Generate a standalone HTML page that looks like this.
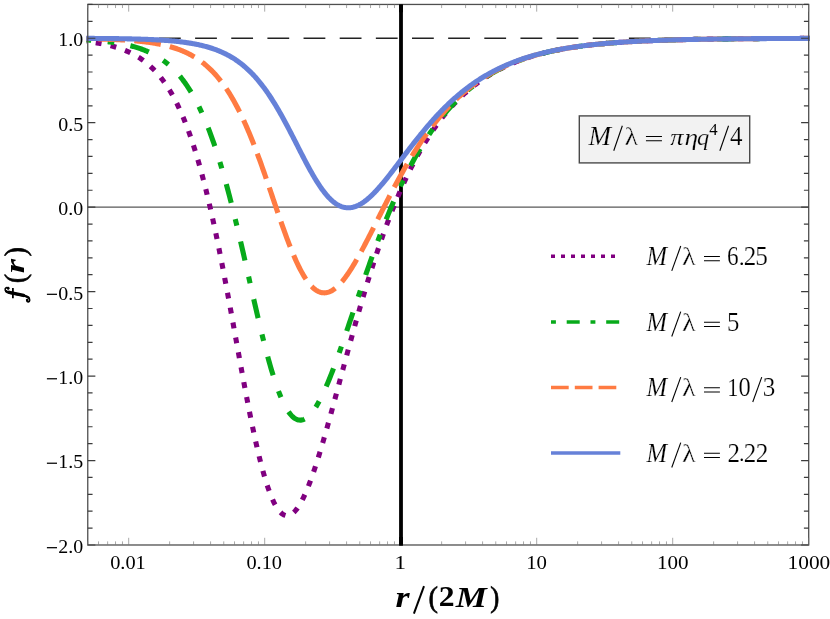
<!DOCTYPE html>
<html><head><meta charset="utf-8"><title>f(r)</title>
<style>html,body{margin:0;padding:0;background:#fff}body{width:830px;height:619px;overflow:hidden;font-family:"Liberation Serif",serif}svg{display:block;will-change:transform}</style>
</head><body>
<svg width="830" height="619" viewBox="0 0 830 619">
<rect width="830" height="619" fill="#fff"/>
<defs><clipPath id="c"><rect x="86.26" y="3.25" width="723.74" height="542.94"/></clipPath></defs>
<line x1="87.76" x2="808.70" y1="207.15" y2="207.15" stroke="#585858" stroke-width="1.3"/>
<g clip-path="url(#c)" fill="none">
<line x1="87.76" x2="808.70" y1="38.23" y2="38.23" stroke="#222" stroke-width="1.7" stroke-dasharray="21.8 14.35" stroke-dashoffset="1.11"/>
<line x1="401" x2="401" y1="4.45" y2="544.99" stroke="#000" stroke-width="3.8"/>
<path d="M82.84,41.18 L83.65,41.26 L84.46,41.35 L85.27,41.43 L86.08,41.52 L86.89,41.61 L87.70,41.71 L88.51,41.80 L89.32,41.90 L90.13,42.00 L90.94,42.11 L91.75,42.22 L92.56,42.33 L93.37,42.44 L94.18,42.56 L94.99,42.68 L95.80,42.80 L96.62,42.92 L97.43,43.05 L98.24,43.19 L99.05,43.33 L99.86,43.47 L100.67,43.61 L101.48,43.76 L102.29,43.91 L103.10,44.07 L103.91,44.23 L104.72,44.40 L105.53,44.57 L106.34,44.74 L107.15,44.92 L107.96,45.10 L108.77,45.29 L109.59,45.49 L110.40,45.69 L111.21,45.89 L112.02,46.11 L112.83,46.32 L113.64,46.54 L114.45,46.77 L115.26,47.01 L116.07,47.25 L116.88,47.50 L117.69,47.75 L118.50,48.01 L119.31,48.28 L120.12,48.56 L120.93,48.84 L121.74,49.13 L122.56,49.43 L123.37,49.74 L124.18,50.05 L124.99,50.38 L125.80,50.71 L126.61,51.05 L127.42,51.40 L128.23,51.76 L129.04,52.13 L129.85,52.51 L130.66,52.90 L131.47,53.30 L132.28,53.71 L133.09,54.13 L133.90,54.56 L134.71,55.01 L135.53,55.46 L136.34,55.93 L137.15,56.41 L137.96,56.91 L138.77,57.41 L139.58,57.93 L140.39,58.47 L141.20,59.01 L142.01,59.58 L142.82,60.15 L143.63,60.74 L144.44,61.35 L145.25,61.97 L146.06,62.61 L146.87,63.27 L147.68,63.94 L148.50,64.63 L149.31,65.34 L150.12,66.06 L150.93,66.81 L151.74,67.57 L152.55,68.36 L153.36,69.16 L154.17,69.98 L154.98,70.83 L155.79,71.69 L156.60,72.58 L157.41,73.49 L158.22,74.43 L159.03,75.38 L159.84,76.36 L160.65,77.37 L161.47,78.40 L162.28,79.45 L163.09,80.53 L163.90,81.64 L164.71,82.78 L165.52,83.94 L166.33,85.13 L167.14,86.35 L167.95,87.60 L168.76,88.88 L169.57,90.19 L170.38,91.53 L171.19,92.90 L172.00,94.31 L172.81,95.75 L173.62,97.22 L174.44,98.73 L175.25,100.27 L176.06,101.84 L176.87,103.46 L177.68,105.11 L178.49,106.79 L179.30,108.52 L180.11,110.28 L180.92,112.08 L181.73,113.92 L182.54,115.81 L183.35,117.73 L184.16,119.70 L184.97,121.70 L185.78,123.75 L186.59,125.85 L187.40,127.98 L188.22,130.16 L189.03,132.39 L189.84,134.66 L190.65,136.98 L191.46,139.34 L192.27,141.75 L193.08,144.21 L193.89,146.72 L194.70,149.27 L195.51,151.87 L196.32,154.53 L197.13,157.23 L197.94,159.98 L198.75,162.78 L199.56,165.63 L200.37,168.53 L201.19,171.48 L202.00,174.48 L202.81,177.53 L203.62,180.63 L204.43,183.78 L205.24,186.99 L206.05,190.24 L206.86,193.54 L207.67,196.90 L208.48,200.30 L209.29,203.75 L210.10,207.26 L210.91,210.81 L211.72,214.41 L212.53,218.05 L213.34,221.75 L214.16,225.49 L214.97,229.27 L215.78,233.10 L216.59,236.98 L217.40,240.90 L218.21,244.86 L219.02,248.86 L219.83,252.90 L220.64,256.98 L221.45,261.09 L222.26,265.24 L223.07,269.43 L223.88,273.65 L224.69,277.90 L225.50,282.18 L226.31,286.49 L227.13,290.83 L227.94,295.18 L228.75,299.57 L229.56,303.97 L230.37,308.39 L231.18,312.82 L231.99,317.27 L232.80,321.73 L233.61,326.20 L234.42,330.68 L235.23,335.16 L236.04,339.64 L236.85,344.12 L237.66,348.60 L238.47,353.07 L239.28,357.53 L240.10,361.98 L240.91,366.42 L241.72,370.84 L242.53,375.24 L243.34,379.62 L244.15,383.97 L244.96,388.29 L245.77,392.58 L246.58,396.84 L247.39,401.06 L248.20,405.24 L249.01,409.37 L249.82,413.46 L250.63,417.50 L251.44,421.50 L252.25,425.43 L253.07,429.31 L253.88,433.13 L254.69,436.89 L255.50,440.58 L256.31,444.21 L257.12,447.77 L257.93,451.25 L258.74,454.66 L259.55,458.00 L260.36,461.25 L261.17,464.43 L261.98,467.52 L262.79,470.52 L263.60,473.44 L264.41,476.28 L265.22,479.02 L266.04,481.67 L266.85,484.22 L267.66,486.68 L268.47,489.05 L269.28,491.32 L270.09,493.49 L270.90,495.56 L271.71,497.53 L272.52,499.40 L273.33,501.17 L274.14,502.84 L274.95,504.41 L275.76,505.87 L276.57,507.23 L277.38,508.49 L278.19,509.64 L279.00,510.69 L279.82,511.64 L280.63,512.48 L281.44,513.23 L282.25,513.87 L283.06,514.41 L283.87,514.85 L284.68,515.18 L285.49,515.42 L286.30,515.56 L287.11,515.61 L287.92,515.55 L288.73,515.40 L289.54,515.16 L290.35,514.82 L291.16,514.39 L291.97,513.87 L292.79,513.26 L293.60,512.56 L294.41,511.77 L295.22,510.90 L296.03,509.95 L296.84,508.91 L297.65,507.79 L298.46,506.60 L299.27,505.32 L300.08,503.98 L300.89,502.55 L301.70,501.06 L302.51,499.49 L303.32,497.86 L304.13,496.16 L304.94,494.39 L305.76,492.56 L306.57,490.67 L307.38,488.72 L308.19,486.71 L309.00,484.65 L309.81,482.53 L310.62,480.36 L311.43,478.13 L312.24,475.86 L313.05,473.54 L313.86,471.18 L314.67,468.77 L315.48,466.32 L316.29,463.83 L317.10,461.30 L317.91,458.74 L318.73,456.13 L319.54,453.50 L320.35,450.83 L321.16,448.13 L321.97,445.41 L322.78,442.65 L323.59,439.87 L324.40,437.07 L325.21,434.24 L326.02,431.39 L326.83,428.53 L327.64,425.64 L328.45,422.73 L329.26,419.81 L330.07,416.88 L330.88,413.93 L331.70,410.97 L332.51,408.00 L333.32,405.02 L334.13,402.03 L334.94,399.03 L335.75,396.02 L336.56,393.02 L337.37,390.00 L338.18,386.98 L338.99,383.97 L339.80,380.95 L340.61,377.93 L341.42,374.91 L342.23,371.89 L343.04,368.87 L343.85,365.86 L344.67,362.85 L345.48,359.84 L346.29,356.85 L347.10,353.85 L347.91,350.87 L348.72,347.89 L349.53,344.92 L350.34,341.96 L351.15,339.01 L351.96,336.07 L352.77,333.14 L353.58,330.22 L354.39,327.31 L355.20,324.42 L356.01,321.53 L356.82,318.67 L357.63,315.81 L358.45,312.97 L359.26,310.14 L360.07,307.33 L360.88,304.53 L361.69,301.75 L362.50,298.99 L363.31,296.24 L364.12,293.51 L364.93,290.79 L365.74,288.10 L366.55,285.42 L367.36,282.75 L368.17,280.11 L368.98,277.48 L369.79,274.87 L370.60,272.28 L371.42,269.71 L372.23,267.16 L373.04,264.63 L373.85,262.11 L374.66,259.62 L375.47,257.14 L376.28,254.69 L377.09,252.25 L377.90,249.83 L378.71,247.44 L379.52,245.06 L380.33,242.70 L381.14,240.36 L381.95,238.05 L382.76,235.75 L383.57,233.47 L384.39,231.21 L385.20,228.98 L386.01,226.76 L386.82,224.56 L387.63,222.39 L388.44,220.23 L389.25,218.09 L390.06,215.97 L390.87,213.88 L391.68,211.80 L392.49,209.74 L393.30,207.71 L394.11,205.69 L394.92,203.69 L395.73,201.71 L396.54,199.75 L397.36,197.81 L398.17,195.89 L398.98,193.99 L399.79,192.11 L400.60,190.25 L401.41,188.41 L402.22,186.58 L403.03,184.78 L403.84,182.99 L404.65,181.22 L405.46,179.48 L406.27,177.75 L407.08,176.03 L407.89,174.34 L408.70,172.66 L409.51,171.01 L410.33,169.37 L411.14,167.74 L411.95,166.14 L412.76,164.55 L413.57,162.98 L414.38,161.43 L415.19,159.90 L416.00,158.38 L416.81,156.88 L417.62,155.39 L418.43,153.93 L419.24,152.48 L420.05,151.04 L420.86,149.62 L421.67,148.22 L422.48,146.83 L423.30,145.46 L424.11,144.11 L424.92,142.77 L425.73,141.45 L426.54,140.14 L427.35,138.84 L428.16,137.57 L428.97,136.30 L429.78,135.05 L430.59,133.82 L431.40,132.60 L432.21,131.40 L433.02,130.21 L433.83,129.03 L434.64,127.87 L435.45,126.72 L436.27,125.58 L437.08,124.46 L437.89,123.35 L438.70,122.26 L439.51,121.18 L440.32,120.11 L441.13,119.05 L441.94,118.01 L442.75,116.98 L443.56,115.96 L444.37,114.96 L445.18,113.96 L445.99,112.98 L446.80,112.01 L447.61,111.05 L448.42,110.11 L449.23,109.18 L450.05,108.25 L450.86,107.34 L451.67,106.44 L452.48,105.55 L453.29,104.68 L454.10,103.81 L454.91,102.95 L455.72,102.11 L456.53,101.27 L457.34,100.45 L458.15,99.63 L458.96,98.83 L459.77,98.04 L460.58,97.25 L461.39,96.48 L462.20,95.71 L463.02,94.96 L463.83,94.21 L464.64,93.48 L465.45,92.75 L466.26,92.03 L467.07,91.33 L467.88,90.63 L468.69,89.94 L469.50,89.25 L470.31,88.58 L471.12,87.92 L471.93,87.26 L472.74,86.61 L473.55,85.97 L474.36,85.34 L475.17,84.72 L475.99,84.10 L476.80,83.50 L477.61,82.90 L478.42,82.31 L479.23,81.72 L480.04,81.15 L480.85,80.58 L481.66,80.01 L482.47,79.46 L483.28,78.91 L484.09,78.37 L484.90,77.84 L485.71,77.31 L486.52,76.79 L487.33,76.28 L488.14,75.77 L488.96,75.27 L489.77,74.78 L490.58,74.29 L491.39,73.81 L492.20,73.34 L493.01,72.87 L493.82,72.41 L494.63,71.95 L495.44,71.50 L496.25,71.06 L497.06,70.62 L497.87,70.19 L498.68,69.76 L499.49,69.34 L500.30,68.92 L501.11,68.51 L501.93,68.11 L502.74,67.71 L503.55,67.31 L504.36,66.92 L505.17,66.54 L505.98,66.16 L506.79,65.79 L507.60,65.42 L508.41,65.05 L509.22,64.69 L510.03,64.34 L510.84,63.99 L511.65,63.64 L512.46,63.30 L513.27,62.96 L514.08,62.63 L514.90,62.30 L515.71,61.98 L516.52,61.66 L517.33,61.35 L518.14,61.04 L518.95,60.73 L519.76,60.43 L520.57,60.13 L521.38,59.84 L522.19,59.54 L523.00,59.26 L523.81,58.97 L524.62,58.70 L525.43,58.42 L526.24,58.15 L527.05,57.88 L527.87,57.62 L528.68,57.35 L529.49,57.10 L530.30,56.84 L531.11,56.59 L531.92,56.34 L532.73,56.10 L533.54,55.86 L534.35,55.62 L535.16,55.39 L535.97,55.16 L536.78,54.93 L537.59,54.70 L538.40,54.48 L539.21,54.26 L540.02,54.04 L540.83,53.83 L541.65,53.62 L542.46,53.41 L543.27,53.21 L544.08,53.00 L544.89,52.80 L545.70,52.61 L546.51,52.41 L547.32,52.22 L548.13,52.03 L548.94,51.85 L549.75,51.66 L550.56,51.48 L551.37,51.30 L552.18,51.12 L552.99,50.95 L553.80,50.78 L554.62,50.61 L555.43,50.44 L556.24,50.28 L557.05,50.11 L557.86,49.95 L558.67,49.79 L559.48,49.64 L560.29,49.48 L561.10,49.33 L561.91,49.18 L562.72,49.03 L563.53,48.89 L564.34,48.74 L565.15,48.60 L565.96,48.46 L566.77,48.32 L567.59,48.18 L568.40,48.05 L569.21,47.92 L570.02,47.78 L570.83,47.65 L571.64,47.53 L572.45,47.40 L573.26,47.28 L574.07,47.15 L574.88,47.03 L575.69,46.91 L576.50,46.80 L577.31,46.68 L578.12,46.56 L578.93,46.45 L579.74,46.34 L580.56,46.23 L581.37,46.12 L582.18,46.01 L582.99,45.91 L583.80,45.80 L584.61,45.70 L585.42,45.60 L586.23,45.50 L587.04,45.40 L587.85,45.30 L588.66,45.21 L589.47,45.11 L590.28,45.02 L591.09,44.93 L591.90,44.84 L592.71,44.75 L593.53,44.66 L594.34,44.57 L595.15,44.49 L595.96,44.40 L596.77,44.32 L597.58,44.23 L598.39,44.15 L599.20,44.07 L600.01,43.99 L600.82,43.91 L601.63,43.84 L602.44,43.76 L603.25,43.69 L604.06,43.61 L604.87,43.54 L605.68,43.47 L606.50,43.40 L607.31,43.33 L608.12,43.26 L608.93,43.19 L609.74,43.12 L610.55,43.05 L611.36,42.99 L612.17,42.92 L612.98,42.86 L613.79,42.80 L614.60,42.73 L615.41,42.67 L616.22,42.61 L617.03,42.55 L617.84,42.49 L618.65,42.44 L619.46,42.38 L620.28,42.32 L621.09,42.27 L621.90,42.21 L622.71,42.16 L623.52,42.11 L624.33,42.05 L625.14,42.00 L625.95,41.95 L626.76,41.90 L627.57,41.85 L628.38,41.80 L629.19,41.75 L630.00,41.70 L630.81,41.66 L631.62,41.61 L632.43,41.56 L633.25,41.52 L634.06,41.47 L634.87,41.43 L635.68,41.39 L636.49,41.34 L637.30,41.30 L638.11,41.26 L638.92,41.22 L639.73,41.18 L640.54,41.14 L641.35,41.10 L642.16,41.06 L642.97,41.02 L643.78,40.98 L644.59,40.94 L645.40,40.91 L646.22,40.87 L647.03,40.83 L647.84,40.80 L648.65,40.76 L649.46,40.73 L650.27,40.70 L651.08,40.66 L651.89,40.63 L652.70,40.60 L653.51,40.56 L654.32,40.53 L655.13,40.50 L655.94,40.47 L656.75,40.44 L657.56,40.41 L658.37,40.38 L659.19,40.35 L660.00,40.32 L660.81,40.29 L661.62,40.27 L662.43,40.24 L663.24,40.21 L664.05,40.18 L664.86,40.16 L665.67,40.13 L666.48,40.10 L667.29,40.08 L668.10,40.05 L668.91,40.03 L669.72,40.00 L670.53,39.98 L671.34,39.96 L672.16,39.93 L672.97,39.91 L673.78,39.89 L674.59,39.86 L675.40,39.84 L676.21,39.82 L677.02,39.80 L677.83,39.78 L678.64,39.76 L679.45,39.74 L680.26,39.71 L681.07,39.69 L681.88,39.67 L682.69,39.66 L683.50,39.64 L684.31,39.62 L685.13,39.60 L685.94,39.58 L686.75,39.56 L687.56,39.54 L688.37,39.52 L689.18,39.51 L689.99,39.49 L690.80,39.47 L691.61,39.46 L692.42,39.44 L693.23,39.42 L694.04,39.41 L694.85,39.39 L695.66,39.37 L696.47,39.36 L697.28,39.34 L698.10,39.33 L698.91,39.31 L699.72,39.30 L700.53,39.28 L701.34,39.27 L702.15,39.26 L702.96,39.24 L703.77,39.23 L704.58,39.21 L705.39,39.20 L706.20,39.19 L707.01,39.17 L707.82,39.16 L708.63,39.15 L709.44,39.14 L710.25,39.12 L711.06,39.11 L711.88,39.10 L712.69,39.09 L713.50,39.08 L714.31,39.06 L715.12,39.05 L715.93,39.04 L716.74,39.03 L717.55,39.02 L718.36,39.01 L719.17,39.00 L719.98,38.99 L720.79,38.98 L721.60,38.97 L722.41,38.96 L723.22,38.95 L724.03,38.94 L724.85,38.93 L725.66,38.92 L726.47,38.91 L727.28,38.90 L728.09,38.89 L728.90,38.88 L729.71,38.87 L730.52,38.86 L731.33,38.86 L732.14,38.85 L732.95,38.84 L733.76,38.83 L734.57,38.82 L735.38,38.81 L736.19,38.81 L737.00,38.80 L737.82,38.79 L738.63,38.78 L739.44,38.78 L740.25,38.77 L741.06,38.76 L741.87,38.75 L742.68,38.75 L743.49,38.74 L744.30,38.73 L745.11,38.73 L745.92,38.72 L746.73,38.71 L747.54,38.71 L748.35,38.70 L749.16,38.69 L749.97,38.69 L750.79,38.68 L751.60,38.67 L752.41,38.67 L753.22,38.66 L754.03,38.66 L754.84,38.65 L755.65,38.64 L756.46,38.64 L757.27,38.63 L758.08,38.63 L758.89,38.62 L759.70,38.62 L760.51,38.61 L761.32,38.61 L762.13,38.60 L762.94,38.60 L763.76,38.59 L764.57,38.59 L765.38,38.58 L766.19,38.58 L767.00,38.57 L767.81,38.57 L768.62,38.56 L769.43,38.56 L770.24,38.55 L771.05,38.55 L771.86,38.55 L772.67,38.54 L773.48,38.54 L774.29,38.53 L775.10,38.53 L775.91,38.52 L776.73,38.52 L777.54,38.52 L778.35,38.51 L779.16,38.51 L779.97,38.50 L780.78,38.50 L781.59,38.50 L782.40,38.49 L783.21,38.49 L784.02,38.49 L784.83,38.48 L785.64,38.48 L786.45,38.48 L787.26,38.47 L788.07,38.47 L788.88,38.47 L789.70,38.46 L790.51,38.46 L791.32,38.46 L792.13,38.45 L792.94,38.45 L793.75,38.45 L794.56,38.44 L795.37,38.44 L796.18,38.44 L796.99,38.44 L797.80,38.43 L798.61,38.43 L799.42,38.43 L800.23,38.42 L801.04,38.42 L801.85,38.42 L802.66,38.42 L803.48,38.41 L804.29,38.41 L805.10,38.41 L805.91,38.41 L806.72,38.40 L807.53,38.40 L808.34,38.40 L809.15,38.40 L809.96,38.40 L810.77,38.39 L811.58,38.39" stroke="#800080" stroke-width="5.1" stroke-dasharray="5.9 9.24" stroke-dashoffset="2.16"/>
<path d="M82.84,39.74 L83.65,39.79 L84.46,39.83 L85.27,39.87 L86.08,39.92 L86.89,39.97 L87.70,40.01 L88.51,40.06 L89.32,40.11 L90.13,40.17 L90.94,40.22 L91.75,40.27 L92.56,40.33 L93.37,40.39 L94.18,40.45 L94.99,40.51 L95.80,40.57 L96.62,40.64 L97.43,40.71 L98.24,40.77 L99.05,40.85 L99.86,40.92 L100.67,40.99 L101.48,41.07 L102.29,41.15 L103.10,41.23 L103.91,41.31 L104.72,41.40 L105.53,41.48 L106.34,41.57 L107.15,41.67 L107.96,41.76 L108.77,41.86 L109.59,41.96 L110.40,42.06 L111.21,42.17 L112.02,42.28 L112.83,42.39 L113.64,42.50 L114.45,42.62 L115.26,42.74 L116.07,42.87 L116.88,43.00 L117.69,43.13 L118.50,43.26 L119.31,43.40 L120.12,43.54 L120.93,43.69 L121.74,43.84 L122.56,44.00 L123.37,44.16 L124.18,44.32 L124.99,44.49 L125.80,44.66 L126.61,44.84 L127.42,45.02 L128.23,45.20 L129.04,45.40 L129.85,45.59 L130.66,45.79 L131.47,46.00 L132.28,46.22 L133.09,46.43 L133.90,46.66 L134.71,46.89 L135.53,47.13 L136.34,47.37 L137.15,47.62 L137.96,47.88 L138.77,48.14 L139.58,48.42 L140.39,48.69 L141.20,48.98 L142.01,49.27 L142.82,49.57 L143.63,49.88 L144.44,50.20 L145.25,50.53 L146.06,50.86 L146.87,51.21 L147.68,51.56 L148.50,51.92 L149.31,52.29 L150.12,52.68 L150.93,53.07 L151.74,53.47 L152.55,53.88 L153.36,54.31 L154.17,54.74 L154.98,55.19 L155.79,55.65 L156.60,56.12 L157.41,56.60 L158.22,57.09 L159.03,57.60 L159.84,58.12 L160.65,58.66 L161.47,59.21 L162.28,59.77 L163.09,60.35 L163.90,60.94 L164.71,61.54 L165.52,62.17 L166.33,62.81 L167.14,63.46 L167.95,64.13 L168.76,64.82 L169.57,65.53 L170.38,66.25 L171.19,66.99 L172.00,67.75 L172.81,68.53 L173.62,69.33 L174.44,70.15 L175.25,70.99 L176.06,71.85 L176.87,72.73 L177.68,73.63 L178.49,74.56 L179.30,75.50 L180.11,76.47 L180.92,77.47 L181.73,78.48 L182.54,79.52 L183.35,80.59 L184.16,81.68 L184.97,82.80 L185.78,83.94 L186.59,85.11 L187.40,86.31 L188.22,87.54 L189.03,88.79 L189.84,90.07 L190.65,91.39 L191.46,92.73 L192.27,94.10 L193.08,95.50 L193.89,96.94 L194.70,98.40 L195.51,99.90 L196.32,101.43 L197.13,102.99 L197.94,104.59 L198.75,106.22 L199.56,107.89 L200.37,109.59 L201.19,111.32 L202.00,113.09 L202.81,114.90 L203.62,116.75 L204.43,118.63 L205.24,120.55 L206.05,122.50 L206.86,124.50 L207.67,126.53 L208.48,128.60 L209.29,130.71 L210.10,132.86 L210.91,135.05 L211.72,137.28 L212.53,139.55 L213.34,141.86 L214.16,144.21 L214.97,146.60 L215.78,149.03 L216.59,151.50 L217.40,154.02 L218.21,156.57 L219.02,159.16 L219.83,161.79 L220.64,164.47 L221.45,167.18 L222.26,169.93 L223.07,172.72 L223.88,175.55 L224.69,178.42 L225.50,181.33 L226.31,184.27 L227.13,187.26 L227.94,190.28 L228.75,193.33 L229.56,196.42 L230.37,199.55 L231.18,202.71 L231.99,205.90 L232.80,209.12 L233.61,212.38 L234.42,215.66 L235.23,218.98 L236.04,222.32 L236.85,225.69 L237.66,229.08 L238.47,232.50 L239.28,235.94 L240.10,239.41 L240.91,242.89 L241.72,246.39 L242.53,249.91 L243.34,253.44 L244.15,256.98 L244.96,260.54 L245.77,264.11 L246.58,267.68 L247.39,271.26 L248.20,274.84 L249.01,278.43 L249.82,282.02 L250.63,285.60 L251.44,289.18 L252.25,292.75 L253.07,296.31 L253.88,299.86 L254.69,303.40 L255.50,306.93 L256.31,310.43 L257.12,313.92 L257.93,317.38 L258.74,320.82 L259.55,324.24 L260.36,327.62 L261.17,330.97 L261.98,334.29 L262.79,337.57 L263.60,340.82 L264.41,344.02 L265.22,347.18 L266.04,350.30 L266.85,353.37 L267.66,356.39 L268.47,359.35 L269.28,362.27 L270.09,365.13 L270.90,367.93 L271.71,370.68 L272.52,373.36 L273.33,375.98 L274.14,378.54 L274.95,381.03 L275.76,383.45 L276.57,385.80 L277.38,388.09 L278.19,390.30 L279.00,392.44 L279.82,394.50 L280.63,396.49 L281.44,398.40 L282.25,400.24 L283.06,402.00 L283.87,403.67 L284.68,405.27 L285.49,406.79 L286.30,408.23 L287.11,409.58 L287.92,410.86 L288.73,412.05 L289.54,413.16 L290.35,414.18 L291.16,415.13 L291.97,415.99 L292.79,416.77 L293.60,417.47 L294.41,418.08 L295.22,418.62 L296.03,419.07 L296.84,419.44 L297.65,419.73 L298.46,419.94 L299.27,420.07 L300.08,420.13 L300.89,420.11 L301.70,420.01 L302.51,419.83 L303.32,419.58 L304.13,419.25 L304.94,418.85 L305.76,418.38 L306.57,417.84 L307.38,417.23 L308.19,416.55 L309.00,415.81 L309.81,415.00 L310.62,414.12 L311.43,413.18 L312.24,412.18 L313.05,411.11 L313.86,409.99 L314.67,408.81 L315.48,407.57 L316.29,406.28 L317.10,404.93 L317.91,403.53 L318.73,402.08 L319.54,400.58 L320.35,399.03 L321.16,397.44 L321.97,395.80 L322.78,394.11 L323.59,392.38 L324.40,390.62 L325.21,388.81 L326.02,386.96 L326.83,385.08 L327.64,383.16 L328.45,381.21 L329.26,379.23 L330.07,377.21 L330.88,375.17 L331.70,373.09 L332.51,370.99 L333.32,368.87 L334.13,366.71 L334.94,364.54 L335.75,362.34 L336.56,360.12 L337.37,357.88 L338.18,355.63 L338.99,353.35 L339.80,351.06 L340.61,348.76 L341.42,346.44 L342.23,344.10 L343.04,341.76 L343.85,339.40 L344.67,337.04 L345.48,334.66 L346.29,332.28 L347.10,329.89 L347.91,327.49 L348.72,325.09 L349.53,322.68 L350.34,320.27 L351.15,317.86 L351.96,315.44 L352.77,313.03 L353.58,310.61 L354.39,308.20 L355.20,305.78 L356.01,303.37 L356.82,300.96 L357.63,298.55 L358.45,296.14 L359.26,293.74 L360.07,291.35 L360.88,288.96 L361.69,286.57 L362.50,284.20 L363.31,281.83 L364.12,279.46 L364.93,277.11 L365.74,274.76 L366.55,272.42 L367.36,270.10 L368.17,267.78 L368.98,265.47 L369.79,263.17 L370.60,260.88 L371.42,258.61 L372.23,256.34 L373.04,254.09 L373.85,251.85 L374.66,249.62 L375.47,247.41 L376.28,245.21 L377.09,243.02 L377.90,240.84 L378.71,238.68 L379.52,236.53 L380.33,234.40 L381.14,232.28 L381.95,230.17 L382.76,228.08 L383.57,226.01 L384.39,223.95 L385.20,221.90 L386.01,219.87 L386.82,217.85 L387.63,215.85 L388.44,213.87 L389.25,211.90 L390.06,209.95 L390.87,208.01 L391.68,206.09 L392.49,204.18 L393.30,202.29 L394.11,200.42 L394.92,198.56 L395.73,196.72 L396.54,194.89 L397.36,193.08 L398.17,191.29 L398.98,189.51 L399.79,187.75 L400.60,186.00 L401.41,184.27 L402.22,182.56 L403.03,180.86 L403.84,179.18 L404.65,177.51 L405.46,175.86 L406.27,174.23 L407.08,172.61 L407.89,171.01 L408.70,169.42 L409.51,167.85 L410.33,166.30 L411.14,164.76 L411.95,163.23 L412.76,161.72 L413.57,160.23 L414.38,158.75 L415.19,157.29 L416.00,155.84 L416.81,154.41 L417.62,152.99 L418.43,151.59 L419.24,150.20 L420.05,148.83 L420.86,147.47 L421.67,146.12 L422.48,144.79 L423.30,143.48 L424.11,142.18 L424.92,140.89 L425.73,139.62 L426.54,138.36 L427.35,137.11 L428.16,135.88 L428.97,134.66 L429.78,133.46 L430.59,132.27 L431.40,131.09 L432.21,129.93 L433.02,128.77 L433.83,127.64 L434.64,126.51 L435.45,125.40 L436.27,124.30 L437.08,123.21 L437.89,122.14 L438.70,121.08 L439.51,120.03 L440.32,118.99 L441.13,117.96 L441.94,116.95 L442.75,115.95 L443.56,114.96 L444.37,113.98 L445.18,113.01 L445.99,112.06 L446.80,111.11 L447.61,110.18 L448.42,109.26 L449.23,108.35 L450.05,107.45 L450.86,106.56 L451.67,105.68 L452.48,104.81 L453.29,103.95 L454.10,103.11 L454.91,102.27 L455.72,101.44 L456.53,100.62 L457.34,99.82 L458.15,99.02 L458.96,98.23 L459.77,97.46 L460.58,96.69 L461.39,95.93 L462.20,95.18 L463.02,94.44 L463.83,93.71 L464.64,92.99 L465.45,92.27 L466.26,91.57 L467.07,90.87 L467.88,90.18 L468.69,89.51 L469.50,88.84 L470.31,88.17 L471.12,87.52 L471.93,86.88 L472.74,86.24 L473.55,85.61 L474.36,84.99 L475.17,84.37 L475.99,83.77 L476.80,83.17 L477.61,82.58 L478.42,82.00 L479.23,81.42 L480.04,80.85 L480.85,80.29 L481.66,79.74 L482.47,79.19 L483.28,78.65 L484.09,78.12 L484.90,77.59 L485.71,77.07 L486.52,76.56 L487.33,76.05 L488.14,75.55 L488.96,75.06 L489.77,74.57 L490.58,74.09 L491.39,73.61 L492.20,73.14 L493.01,72.68 L493.82,72.22 L494.63,71.77 L495.44,71.33 L496.25,70.89 L497.06,70.45 L497.87,70.03 L498.68,69.60 L499.49,69.19 L500.30,68.77 L501.11,68.37 L501.93,67.97 L502.74,67.57 L503.55,67.18 L504.36,66.79 L505.17,66.41 L505.98,66.04 L506.79,65.67 L507.60,65.30 L508.41,64.94 L509.22,64.58 L510.03,64.23 L510.84,63.88 L511.65,63.54 L512.46,63.20 L513.27,62.87 L514.08,62.54 L514.90,62.21 L515.71,61.89 L516.52,61.58 L517.33,61.26 L518.14,60.96 L518.95,60.65 L519.76,60.35 L520.57,60.06 L521.38,59.76 L522.19,59.47 L523.00,59.19 L523.81,58.91 L524.62,58.63 L525.43,58.36 L526.24,58.09 L527.05,57.82 L527.87,57.56 L528.68,57.30 L529.49,57.04 L530.30,56.79 L531.11,56.54 L531.92,56.29 L532.73,56.05 L533.54,55.81 L534.35,55.57 L535.16,55.34 L535.97,55.11 L536.78,54.88 L537.59,54.66 L538.40,54.44 L539.21,54.22 L540.02,54.01 L540.83,53.79 L541.65,53.58 L542.46,53.38 L543.27,53.17 L544.08,52.97 L544.89,52.77 L545.70,52.58 L546.51,52.38 L547.32,52.19 L548.13,52.00 L548.94,51.82 L549.75,51.63 L550.56,51.45 L551.37,51.28 L552.18,51.10 L552.99,50.93 L553.80,50.75 L554.62,50.59 L555.43,50.42 L556.24,50.25 L557.05,50.09 L557.86,49.93 L558.67,49.77 L559.48,49.62 L560.29,49.46 L561.10,49.31 L561.91,49.16 L562.72,49.01 L563.53,48.87 L564.34,48.72 L565.15,48.58 L565.96,48.44 L566.77,48.30 L567.59,48.17 L568.40,48.03 L569.21,47.90 L570.02,47.77 L570.83,47.64 L571.64,47.51 L572.45,47.39 L573.26,47.26 L574.07,47.14 L574.88,47.02 L575.69,46.90 L576.50,46.78 L577.31,46.67 L578.12,46.55 L578.93,46.44 L579.74,46.33 L580.56,46.22 L581.37,46.11 L582.18,46.01 L582.99,45.90 L583.80,45.80 L584.61,45.69 L585.42,45.59 L586.23,45.49 L587.04,45.39 L587.85,45.30 L588.66,45.20 L589.47,45.11 L590.28,45.01 L591.09,44.92 L591.90,44.83 L592.71,44.74 L593.53,44.65 L594.34,44.57 L595.15,44.48 L595.96,44.40 L596.77,44.31 L597.58,44.23 L598.39,44.15 L599.20,44.07 L600.01,43.99 L600.82,43.91 L601.63,43.83 L602.44,43.76 L603.25,43.68 L604.06,43.61 L604.87,43.53 L605.68,43.46 L606.50,43.39 L607.31,43.32 L608.12,43.25 L608.93,43.18 L609.74,43.12 L610.55,43.05 L611.36,42.99 L612.17,42.92 L612.98,42.86 L613.79,42.79 L614.60,42.73 L615.41,42.67 L616.22,42.61 L617.03,42.55 L617.84,42.49 L618.65,42.43 L619.46,42.38 L620.28,42.32 L621.09,42.27 L621.90,42.21 L622.71,42.16 L623.52,42.10 L624.33,42.05 L625.14,42.00 L625.95,41.95 L626.76,41.90 L627.57,41.85 L628.38,41.80 L629.19,41.75 L630.00,41.70 L630.81,41.65 L631.62,41.61 L632.43,41.56 L633.25,41.52 L634.06,41.47 L634.87,41.43 L635.68,41.38 L636.49,41.34 L637.30,41.30 L638.11,41.26 L638.92,41.22 L639.73,41.18 L640.54,41.14 L641.35,41.10 L642.16,41.06 L642.97,41.02 L643.78,40.98 L644.59,40.94 L645.40,40.91 L646.22,40.87 L647.03,40.83 L647.84,40.80 L648.65,40.76 L649.46,40.73 L650.27,40.69 L651.08,40.66 L651.89,40.63 L652.70,40.60 L653.51,40.56 L654.32,40.53 L655.13,40.50 L655.94,40.47 L656.75,40.44 L657.56,40.41 L658.37,40.38 L659.19,40.35 L660.00,40.32 L660.81,40.29 L661.62,40.26 L662.43,40.24 L663.24,40.21 L664.05,40.18 L664.86,40.16 L665.67,40.13 L666.48,40.10 L667.29,40.08 L668.10,40.05 L668.91,40.03 L669.72,40.00 L670.53,39.98 L671.34,39.96 L672.16,39.93 L672.97,39.91 L673.78,39.89 L674.59,39.86 L675.40,39.84 L676.21,39.82 L677.02,39.80 L677.83,39.78 L678.64,39.76 L679.45,39.74 L680.26,39.71 L681.07,39.69 L681.88,39.67 L682.69,39.65 L683.50,39.64 L684.31,39.62 L685.13,39.60 L685.94,39.58 L686.75,39.56 L687.56,39.54 L688.37,39.52 L689.18,39.51 L689.99,39.49 L690.80,39.47 L691.61,39.46 L692.42,39.44 L693.23,39.42 L694.04,39.41 L694.85,39.39 L695.66,39.37 L696.47,39.36 L697.28,39.34 L698.10,39.33 L698.91,39.31 L699.72,39.30 L700.53,39.28 L701.34,39.27 L702.15,39.26 L702.96,39.24 L703.77,39.23 L704.58,39.21 L705.39,39.20 L706.20,39.19 L707.01,39.17 L707.82,39.16 L708.63,39.15 L709.44,39.14 L710.25,39.12 L711.06,39.11 L711.88,39.10 L712.69,39.09 L713.50,39.08 L714.31,39.06 L715.12,39.05 L715.93,39.04 L716.74,39.03 L717.55,39.02 L718.36,39.01 L719.17,39.00 L719.98,38.99 L720.79,38.98 L721.60,38.97 L722.41,38.96 L723.22,38.95 L724.03,38.94 L724.85,38.93 L725.66,38.92 L726.47,38.91 L727.28,38.90 L728.09,38.89 L728.90,38.88 L729.71,38.87 L730.52,38.86 L731.33,38.86 L732.14,38.85 L732.95,38.84 L733.76,38.83 L734.57,38.82 L735.38,38.81 L736.19,38.81 L737.00,38.80 L737.82,38.79 L738.63,38.78 L739.44,38.78 L740.25,38.77 L741.06,38.76 L741.87,38.75 L742.68,38.75 L743.49,38.74 L744.30,38.73 L745.11,38.73 L745.92,38.72 L746.73,38.71 L747.54,38.71 L748.35,38.70 L749.16,38.69 L749.97,38.69 L750.79,38.68 L751.60,38.67 L752.41,38.67 L753.22,38.66 L754.03,38.66 L754.84,38.65 L755.65,38.64 L756.46,38.64 L757.27,38.63 L758.08,38.63 L758.89,38.62 L759.70,38.62 L760.51,38.61 L761.32,38.61 L762.13,38.60 L762.94,38.60 L763.76,38.59 L764.57,38.59 L765.38,38.58 L766.19,38.58 L767.00,38.57 L767.81,38.57 L768.62,38.56 L769.43,38.56 L770.24,38.55 L771.05,38.55 L771.86,38.55 L772.67,38.54 L773.48,38.54 L774.29,38.53 L775.10,38.53 L775.91,38.52 L776.73,38.52 L777.54,38.52 L778.35,38.51 L779.16,38.51 L779.97,38.50 L780.78,38.50 L781.59,38.50 L782.40,38.49 L783.21,38.49 L784.02,38.49 L784.83,38.48 L785.64,38.48 L786.45,38.48 L787.26,38.47 L788.07,38.47 L788.88,38.47 L789.70,38.46 L790.51,38.46 L791.32,38.46 L792.13,38.45 L792.94,38.45 L793.75,38.45 L794.56,38.44 L795.37,38.44 L796.18,38.44 L796.99,38.44 L797.80,38.43 L798.61,38.43 L799.42,38.43 L800.23,38.42 L801.04,38.42 L801.85,38.42 L802.66,38.42 L803.48,38.41 L804.29,38.41 L805.10,38.41 L805.91,38.41 L806.72,38.40 L807.53,38.40 L808.34,38.40 L809.15,38.40 L809.96,38.40 L810.77,38.39 L811.58,38.39" stroke="#07aa1a" stroke-width="5.1" stroke-dasharray="19.5 16.6 6.7 16.35" stroke-dashoffset="11.16"/>
<path d="M82.84,38.68 L83.65,38.69 L84.46,38.70 L85.27,38.72 L86.08,38.73 L86.89,38.74 L87.70,38.76 L88.51,38.77 L89.32,38.79 L90.13,38.80 L90.94,38.82 L91.75,38.84 L92.56,38.85 L93.37,38.87 L94.18,38.89 L94.99,38.91 L95.80,38.93 L96.62,38.95 L97.43,38.97 L98.24,38.99 L99.05,39.01 L99.86,39.03 L100.67,39.05 L101.48,39.07 L102.29,39.10 L103.10,39.12 L103.91,39.15 L104.72,39.17 L105.53,39.20 L106.34,39.22 L107.15,39.25 L107.96,39.28 L108.77,39.31 L109.59,39.34 L110.40,39.37 L111.21,39.40 L112.02,39.43 L112.83,39.47 L113.64,39.50 L114.45,39.54 L115.26,39.57 L116.07,39.61 L116.88,39.65 L117.69,39.69 L118.50,39.73 L119.31,39.77 L120.12,39.81 L120.93,39.86 L121.74,39.90 L122.56,39.95 L123.37,40.00 L124.18,40.04 L124.99,40.09 L125.80,40.15 L126.61,40.20 L127.42,40.25 L128.23,40.31 L129.04,40.37 L129.85,40.43 L130.66,40.49 L131.47,40.55 L132.28,40.61 L133.09,40.68 L133.90,40.75 L134.71,40.82 L135.53,40.89 L136.34,40.96 L137.15,41.04 L137.96,41.12 L138.77,41.19 L139.58,41.28 L140.39,41.36 L141.20,41.45 L142.01,41.54 L142.82,41.63 L143.63,41.72 L144.44,41.82 L145.25,41.92 L146.06,42.02 L146.87,42.12 L147.68,42.23 L148.50,42.34 L149.31,42.45 L150.12,42.57 L150.93,42.69 L151.74,42.81 L152.55,42.94 L153.36,43.07 L154.17,43.20 L154.98,43.34 L155.79,43.48 L156.60,43.62 L157.41,43.77 L158.22,43.92 L159.03,44.08 L159.84,44.24 L160.65,44.40 L161.47,44.57 L162.28,44.74 L163.09,44.92 L163.90,45.10 L164.71,45.29 L165.52,45.49 L166.33,45.68 L167.14,45.89 L167.95,46.10 L168.76,46.31 L169.57,46.53 L170.38,46.76 L171.19,46.99 L172.00,47.23 L172.81,47.47 L173.62,47.72 L174.44,47.98 L175.25,48.24 L176.06,48.52 L176.87,48.79 L177.68,49.08 L178.49,49.37 L179.30,49.67 L180.11,49.98 L180.92,50.30 L181.73,50.63 L182.54,50.96 L183.35,51.30 L184.16,51.65 L184.97,52.01 L185.78,52.38 L186.59,52.76 L187.40,53.15 L188.22,53.55 L189.03,53.96 L189.84,54.38 L190.65,54.81 L191.46,55.25 L192.27,55.71 L193.08,56.17 L193.89,56.65 L194.70,57.13 L195.51,57.63 L196.32,58.15 L197.13,58.67 L197.94,59.21 L198.75,59.76 L199.56,60.33 L200.37,60.91 L201.19,61.50 L202.00,62.11 L202.81,62.73 L203.62,63.37 L204.43,64.03 L205.24,64.69 L206.05,65.38 L206.86,66.08 L207.67,66.80 L208.48,67.54 L209.29,68.29 L210.10,69.06 L210.91,69.85 L211.72,70.66 L212.53,71.48 L213.34,72.33 L214.16,73.19 L214.97,74.07 L215.78,74.98 L216.59,75.90 L217.40,76.85 L218.21,77.81 L219.02,78.80 L219.83,79.81 L220.64,80.84 L221.45,81.89 L222.26,82.96 L223.07,84.06 L223.88,85.18 L224.69,86.33 L225.50,87.49 L226.31,88.69 L227.13,89.90 L227.94,91.14 L228.75,92.41 L229.56,93.70 L230.37,95.02 L231.18,96.36 L231.99,97.72 L232.80,99.12 L233.61,100.54 L234.42,101.98 L235.23,103.45 L236.04,104.95 L236.85,106.48 L237.66,108.03 L238.47,109.61 L239.28,111.22 L240.10,112.85 L240.91,114.51 L241.72,116.19 L242.53,117.91 L243.34,119.65 L244.15,121.42 L244.96,123.21 L245.77,125.03 L246.58,126.88 L247.39,128.75 L248.20,130.65 L249.01,132.57 L249.82,134.52 L250.63,136.50 L251.44,138.50 L252.25,140.52 L253.07,142.57 L253.88,144.64 L254.69,146.73 L255.50,148.85 L256.31,150.99 L257.12,153.15 L257.93,155.33 L258.74,157.53 L259.55,159.74 L260.36,161.98 L261.17,164.23 L261.98,166.51 L262.79,168.79 L263.60,171.09 L264.41,173.41 L265.22,175.73 L266.04,178.07 L266.85,180.42 L267.66,182.78 L268.47,185.15 L269.28,187.52 L270.09,189.90 L270.90,192.29 L271.71,194.67 L272.52,197.06 L273.33,199.45 L274.14,201.84 L274.95,204.23 L275.76,206.62 L276.57,208.99 L277.38,211.37 L278.19,213.73 L279.00,216.09 L279.82,218.43 L280.63,220.76 L281.44,223.08 L282.25,225.38 L283.06,227.67 L283.87,229.93 L284.68,232.18 L285.49,234.40 L286.30,236.61 L287.11,238.78 L287.92,240.93 L288.73,243.06 L289.54,245.15 L290.35,247.21 L291.16,249.24 L291.97,251.24 L292.79,253.20 L293.60,255.13 L294.41,257.02 L295.22,258.87 L296.03,260.68 L296.84,262.45 L297.65,264.18 L298.46,265.86 L299.27,267.50 L300.08,269.10 L300.89,270.65 L301.70,272.15 L302.51,273.60 L303.32,275.00 L304.13,276.36 L304.94,277.66 L305.76,278.91 L306.57,280.11 L307.38,281.26 L308.19,282.35 L309.00,283.39 L309.81,284.38 L310.62,285.31 L311.43,286.19 L312.24,287.02 L313.05,287.79 L313.86,288.50 L314.67,289.16 L315.48,289.76 L316.29,290.31 L317.10,290.81 L317.91,291.25 L318.73,291.63 L319.54,291.96 L320.35,292.24 L321.16,292.47 L321.97,292.63 L322.78,292.75 L323.59,292.82 L324.40,292.83 L325.21,292.79 L326.02,292.70 L326.83,292.56 L327.64,292.37 L328.45,292.13 L329.26,291.84 L330.07,291.51 L330.88,291.13 L331.70,290.70 L332.51,290.22 L333.32,289.71 L334.13,289.15 L334.94,288.54 L335.75,287.90 L336.56,287.21 L337.37,286.48 L338.18,285.71 L338.99,284.91 L339.80,284.07 L340.61,283.19 L341.42,282.27 L342.23,281.33 L343.04,280.34 L343.85,279.33 L344.67,278.28 L345.48,277.20 L346.29,276.10 L347.10,274.96 L347.91,273.80 L348.72,272.61 L349.53,271.39 L350.34,270.15 L351.15,268.88 L351.96,267.60 L352.77,266.28 L353.58,264.95 L354.39,263.60 L355.20,262.23 L356.01,260.84 L356.82,259.43 L357.63,258.00 L358.45,256.56 L359.26,255.10 L360.07,253.63 L360.88,252.15 L361.69,250.65 L362.50,249.14 L363.31,247.62 L364.12,246.08 L364.93,244.54 L365.74,242.99 L366.55,241.43 L367.36,239.87 L368.17,238.29 L368.98,236.71 L369.79,235.13 L370.60,233.53 L371.42,231.94 L372.23,230.34 L373.04,228.74 L373.85,227.13 L374.66,225.52 L375.47,223.91 L376.28,222.30 L377.09,220.69 L377.90,219.08 L378.71,217.47 L379.52,215.86 L380.33,214.25 L381.14,212.65 L381.95,211.04 L382.76,209.44 L383.57,207.84 L384.39,206.25 L385.20,204.66 L386.01,203.07 L386.82,201.49 L387.63,199.91 L388.44,198.33 L389.25,196.77 L390.06,195.21 L390.87,193.65 L391.68,192.10 L392.49,190.56 L393.30,189.02 L394.11,187.49 L394.92,185.97 L395.73,184.46 L396.54,182.95 L397.36,181.46 L398.17,179.97 L398.98,178.48 L399.79,177.01 L400.60,175.55 L401.41,174.09 L402.22,172.65 L403.03,171.21 L403.84,169.78 L404.65,168.36 L405.46,166.95 L406.27,165.55 L407.08,164.17 L407.89,162.79 L408.70,161.42 L409.51,160.06 L410.33,158.71 L411.14,157.37 L411.95,156.04 L412.76,154.72 L413.57,153.42 L414.38,152.12 L415.19,150.83 L416.00,149.55 L416.81,148.29 L417.62,147.03 L418.43,145.79 L419.24,144.56 L420.05,143.33 L420.86,142.12 L421.67,140.92 L422.48,139.73 L423.30,138.55 L424.11,137.38 L424.92,136.22 L425.73,135.07 L426.54,133.93 L427.35,132.80 L428.16,131.69 L428.97,130.58 L429.78,129.49 L430.59,128.40 L431.40,127.33 L432.21,126.27 L433.02,125.21 L433.83,124.17 L434.64,123.14 L435.45,122.12 L436.27,121.10 L437.08,120.10 L437.89,119.11 L438.70,118.13 L439.51,117.16 L440.32,116.20 L441.13,115.25 L441.94,114.31 L442.75,113.38 L443.56,112.46 L444.37,111.55 L445.18,110.64 L445.99,109.75 L446.80,108.87 L447.61,108.00 L448.42,107.13 L449.23,106.28 L450.05,105.44 L450.86,104.60 L451.67,103.77 L452.48,102.96 L453.29,102.15 L454.10,101.35 L454.91,100.56 L455.72,99.78 L456.53,99.01 L457.34,98.25 L458.15,97.49 L458.96,96.74 L459.77,96.01 L460.58,95.28 L461.39,94.56 L462.20,93.84 L463.02,93.14 L463.83,92.44 L464.64,91.76 L465.45,91.08 L466.26,90.40 L467.07,89.74 L467.88,89.08 L468.69,88.43 L469.50,87.79 L470.31,87.16 L471.12,86.53 L471.93,85.91 L472.74,85.30 L473.55,84.70 L474.36,84.10 L475.17,83.51 L475.99,82.93 L476.80,82.36 L477.61,81.79 L478.42,81.22 L479.23,80.67 L480.04,80.12 L480.85,79.58 L481.66,79.05 L482.47,78.52 L483.28,77.99 L484.09,77.48 L484.90,76.97 L485.71,76.47 L486.52,75.97 L487.33,75.48 L488.14,74.99 L488.96,74.52 L489.77,74.04 L490.58,73.58 L491.39,73.11 L492.20,72.66 L493.01,72.21 L493.82,71.77 L494.63,71.33 L495.44,70.89 L496.25,70.47 L497.06,70.04 L497.87,69.63 L498.68,69.21 L499.49,68.81 L500.30,68.41 L501.11,68.01 L501.93,67.62 L502.74,67.23 L503.55,66.85 L504.36,66.47 L505.17,66.10 L505.98,65.73 L506.79,65.37 L507.60,65.01 L508.41,64.66 L509.22,64.31 L510.03,63.97 L510.84,63.63 L511.65,63.29 L512.46,62.96 L513.27,62.63 L514.08,62.31 L514.90,61.99 L515.71,61.68 L516.52,61.36 L517.33,61.06 L518.14,60.75 L518.95,60.46 L519.76,60.16 L520.57,59.87 L521.38,59.58 L522.19,59.30 L523.00,59.02 L523.81,58.74 L524.62,58.47 L525.43,58.20 L526.24,57.93 L527.05,57.67 L527.87,57.41 L528.68,57.16 L529.49,56.90 L530.30,56.66 L531.11,56.41 L531.92,56.17 L532.73,55.93 L533.54,55.69 L534.35,55.46 L535.16,55.23 L535.97,55.00 L536.78,54.78 L537.59,54.56 L538.40,54.34 L539.21,54.12 L540.02,53.91 L540.83,53.70 L541.65,53.49 L542.46,53.29 L543.27,53.09 L544.08,52.89 L544.89,52.69 L545.70,52.50 L546.51,52.31 L547.32,52.12 L548.13,51.93 L548.94,51.75 L549.75,51.57 L550.56,51.39 L551.37,51.21 L552.18,51.04 L552.99,50.86 L553.80,50.69 L554.62,50.53 L555.43,50.36 L556.24,50.20 L557.05,50.04 L557.86,49.88 L558.67,49.72 L559.48,49.57 L560.29,49.41 L561.10,49.26 L561.91,49.12 L562.72,48.97 L563.53,48.82 L564.34,48.68 L565.15,48.54 L565.96,48.40 L566.77,48.27 L567.59,48.13 L568.40,48.00 L569.21,47.87 L570.02,47.74 L570.83,47.61 L571.64,47.48 L572.45,47.36 L573.26,47.23 L574.07,47.11 L574.88,46.99 L575.69,46.87 L576.50,46.76 L577.31,46.64 L578.12,46.53 L578.93,46.42 L579.74,46.31 L580.56,46.20 L581.37,46.09 L582.18,45.98 L582.99,45.88 L583.80,45.77 L584.61,45.67 L585.42,45.57 L586.23,45.47 L587.04,45.37 L587.85,45.28 L588.66,45.18 L589.47,45.09 L590.28,45.00 L591.09,44.90 L591.90,44.81 L592.71,44.73 L593.53,44.64 L594.34,44.55 L595.15,44.46 L595.96,44.38 L596.77,44.30 L597.58,44.22 L598.39,44.13 L599.20,44.05 L600.01,43.98 L600.82,43.90 L601.63,43.82 L602.44,43.75 L603.25,43.67 L604.06,43.60 L604.87,43.52 L605.68,43.45 L606.50,43.38 L607.31,43.31 L608.12,43.24 L608.93,43.17 L609.74,43.11 L610.55,43.04 L611.36,42.98 L612.17,42.91 L612.98,42.85 L613.79,42.79 L614.60,42.72 L615.41,42.66 L616.22,42.60 L617.03,42.54 L617.84,42.49 L618.65,42.43 L619.46,42.37 L620.28,42.31 L621.09,42.26 L621.90,42.20 L622.71,42.15 L623.52,42.10 L624.33,42.04 L625.14,41.99 L625.95,41.94 L626.76,41.89 L627.57,41.84 L628.38,41.79 L629.19,41.74 L630.00,41.70 L630.81,41.65 L631.62,41.60 L632.43,41.56 L633.25,41.51 L634.06,41.47 L634.87,41.42 L635.68,41.38 L636.49,41.34 L637.30,41.30 L638.11,41.25 L638.92,41.21 L639.73,41.17 L640.54,41.13 L641.35,41.09 L642.16,41.05 L642.97,41.02 L643.78,40.98 L644.59,40.94 L645.40,40.90 L646.22,40.87 L647.03,40.83 L647.84,40.80 L648.65,40.76 L649.46,40.73 L650.27,40.69 L651.08,40.66 L651.89,40.63 L652.70,40.59 L653.51,40.56 L654.32,40.53 L655.13,40.50 L655.94,40.47 L656.75,40.44 L657.56,40.41 L658.37,40.38 L659.19,40.35 L660.00,40.32 L660.81,40.29 L661.62,40.26 L662.43,40.24 L663.24,40.21 L664.05,40.18 L664.86,40.15 L665.67,40.13 L666.48,40.10 L667.29,40.08 L668.10,40.05 L668.91,40.03 L669.72,40.00 L670.53,39.98 L671.34,39.96 L672.16,39.93 L672.97,39.91 L673.78,39.89 L674.59,39.86 L675.40,39.84 L676.21,39.82 L677.02,39.80 L677.83,39.78 L678.64,39.75 L679.45,39.73 L680.26,39.71 L681.07,39.69 L681.88,39.67 L682.69,39.65 L683.50,39.63 L684.31,39.62 L685.13,39.60 L685.94,39.58 L686.75,39.56 L687.56,39.54 L688.37,39.52 L689.18,39.51 L689.99,39.49 L690.80,39.47 L691.61,39.45 L692.42,39.44 L693.23,39.42 L694.04,39.41 L694.85,39.39 L695.66,39.37 L696.47,39.36 L697.28,39.34 L698.10,39.33 L698.91,39.31 L699.72,39.30 L700.53,39.28 L701.34,39.27 L702.15,39.25 L702.96,39.24 L703.77,39.23 L704.58,39.21 L705.39,39.20 L706.20,39.19 L707.01,39.17 L707.82,39.16 L708.63,39.15 L709.44,39.14 L710.25,39.12 L711.06,39.11 L711.88,39.10 L712.69,39.09 L713.50,39.08 L714.31,39.06 L715.12,39.05 L715.93,39.04 L716.74,39.03 L717.55,39.02 L718.36,39.01 L719.17,39.00 L719.98,38.99 L720.79,38.98 L721.60,38.97 L722.41,38.96 L723.22,38.95 L724.03,38.94 L724.85,38.93 L725.66,38.92 L726.47,38.91 L727.28,38.90 L728.09,38.89 L728.90,38.88 L729.71,38.87 L730.52,38.86 L731.33,38.86 L732.14,38.85 L732.95,38.84 L733.76,38.83 L734.57,38.82 L735.38,38.81 L736.19,38.81 L737.00,38.80 L737.82,38.79 L738.63,38.78 L739.44,38.78 L740.25,38.77 L741.06,38.76 L741.87,38.75 L742.68,38.75 L743.49,38.74 L744.30,38.73 L745.11,38.73 L745.92,38.72 L746.73,38.71 L747.54,38.71 L748.35,38.70 L749.16,38.69 L749.97,38.69 L750.79,38.68 L751.60,38.67 L752.41,38.67 L753.22,38.66 L754.03,38.66 L754.84,38.65 L755.65,38.64 L756.46,38.64 L757.27,38.63 L758.08,38.63 L758.89,38.62 L759.70,38.62 L760.51,38.61 L761.32,38.61 L762.13,38.60 L762.94,38.60 L763.76,38.59 L764.57,38.59 L765.38,38.58 L766.19,38.58 L767.00,38.57 L767.81,38.57 L768.62,38.56 L769.43,38.56 L770.24,38.55 L771.05,38.55 L771.86,38.55 L772.67,38.54 L773.48,38.54 L774.29,38.53 L775.10,38.53 L775.91,38.52 L776.73,38.52 L777.54,38.52 L778.35,38.51 L779.16,38.51 L779.97,38.50 L780.78,38.50 L781.59,38.50 L782.40,38.49 L783.21,38.49 L784.02,38.49 L784.83,38.48 L785.64,38.48 L786.45,38.48 L787.26,38.47 L788.07,38.47 L788.88,38.47 L789.70,38.46 L790.51,38.46 L791.32,38.46 L792.13,38.45 L792.94,38.45 L793.75,38.45 L794.56,38.44 L795.37,38.44 L796.18,38.44 L796.99,38.44 L797.80,38.43 L798.61,38.43 L799.42,38.43 L800.23,38.42 L801.04,38.42 L801.85,38.42 L802.66,38.42 L803.48,38.41 L804.29,38.41 L805.10,38.41 L805.91,38.41 L806.72,38.40 L807.53,38.40 L808.34,38.40 L809.15,38.40 L809.96,38.40 L810.77,38.39 L811.58,38.39" stroke="#ff7b42" stroke-width="5.1" stroke-dasharray="26.75 9.29" stroke-dashoffset="20.56"/>
<path d="M82.84,38.36 L83.65,38.37 L84.46,38.37 L85.27,38.37 L86.08,38.38 L86.89,38.38 L87.70,38.39 L88.51,38.39 L89.32,38.40 L90.13,38.40 L90.94,38.40 L91.75,38.41 L92.56,38.41 L93.37,38.42 L94.18,38.42 L94.99,38.43 L95.80,38.44 L96.62,38.44 L97.43,38.45 L98.24,38.45 L99.05,38.46 L99.86,38.47 L100.67,38.47 L101.48,38.48 L102.29,38.49 L103.10,38.49 L103.91,38.50 L104.72,38.51 L105.53,38.52 L106.34,38.52 L107.15,38.53 L107.96,38.54 L108.77,38.55 L109.59,38.56 L110.40,38.57 L111.21,38.58 L112.02,38.59 L112.83,38.60 L113.64,38.61 L114.45,38.62 L115.26,38.63 L116.07,38.64 L116.88,38.65 L117.69,38.66 L118.50,38.67 L119.31,38.69 L120.12,38.70 L120.93,38.71 L121.74,38.72 L122.56,38.74 L123.37,38.75 L124.18,38.77 L124.99,38.78 L125.80,38.80 L126.61,38.81 L127.42,38.83 L128.23,38.85 L129.04,38.86 L129.85,38.88 L130.66,38.90 L131.47,38.92 L132.28,38.94 L133.09,38.96 L133.90,38.98 L134.71,39.00 L135.53,39.02 L136.34,39.04 L137.15,39.06 L137.96,39.09 L138.77,39.11 L139.58,39.13 L140.39,39.16 L141.20,39.18 L142.01,39.21 L142.82,39.24 L143.63,39.27 L144.44,39.30 L145.25,39.32 L146.06,39.35 L146.87,39.39 L147.68,39.42 L148.50,39.45 L149.31,39.48 L150.12,39.52 L150.93,39.56 L151.74,39.59 L152.55,39.63 L153.36,39.67 L154.17,39.71 L154.98,39.75 L155.79,39.79 L156.60,39.83 L157.41,39.88 L158.22,39.92 L159.03,39.97 L159.84,40.02 L160.65,40.07 L161.47,40.12 L162.28,40.17 L163.09,40.23 L163.90,40.28 L164.71,40.34 L165.52,40.40 L166.33,40.45 L167.14,40.52 L167.95,40.58 L168.76,40.64 L169.57,40.71 L170.38,40.78 L171.19,40.85 L172.00,40.92 L172.81,41.00 L173.62,41.07 L174.44,41.15 L175.25,41.23 L176.06,41.31 L176.87,41.40 L177.68,41.48 L178.49,41.57 L179.30,41.67 L180.11,41.76 L180.92,41.86 L181.73,41.96 L182.54,42.06 L183.35,42.16 L184.16,42.27 L184.97,42.38 L185.78,42.50 L186.59,42.61 L187.40,42.73 L188.22,42.86 L189.03,42.98 L189.84,43.11 L190.65,43.25 L191.46,43.38 L192.27,43.52 L193.08,43.67 L193.89,43.82 L194.70,43.97 L195.51,44.12 L196.32,44.28 L197.13,44.45 L197.94,44.62 L198.75,44.79 L199.56,44.97 L200.37,45.15 L201.19,45.34 L202.00,45.53 L202.81,45.73 L203.62,45.93 L204.43,46.14 L205.24,46.35 L206.05,46.57 L206.86,46.79 L207.67,47.03 L208.48,47.26 L209.29,47.50 L210.10,47.75 L210.91,48.01 L211.72,48.27 L212.53,48.54 L213.34,48.81 L214.16,49.10 L214.97,49.39 L215.78,49.68 L216.59,49.99 L217.40,50.30 L218.21,50.62 L219.02,50.95 L219.83,51.28 L220.64,51.63 L221.45,51.98 L222.26,52.34 L223.07,52.71 L223.88,53.09 L224.69,53.48 L225.50,53.88 L226.31,54.29 L227.13,54.71 L227.94,55.14 L228.75,55.58 L229.56,56.03 L230.37,56.49 L231.18,56.96 L231.99,57.44 L232.80,57.94 L233.61,58.45 L234.42,58.96 L235.23,59.49 L236.04,60.04 L236.85,60.59 L237.66,61.16 L238.47,61.74 L239.28,62.33 L240.10,62.94 L240.91,63.56 L241.72,64.19 L242.53,64.84 L243.34,65.50 L244.15,66.18 L244.96,66.87 L245.77,67.58 L246.58,68.30 L247.39,69.04 L248.20,69.79 L249.01,70.56 L249.82,71.34 L250.63,72.14 L251.44,72.96 L252.25,73.79 L253.07,74.64 L253.88,75.51 L254.69,76.39 L255.50,77.29 L256.31,78.21 L257.12,79.14 L257.93,80.09 L258.74,81.06 L259.55,82.05 L260.36,83.06 L261.17,84.08 L261.98,85.12 L262.79,86.18 L263.60,87.25 L264.41,88.35 L265.22,89.46 L266.04,90.59 L266.85,91.74 L267.66,92.90 L268.47,94.09 L269.28,95.29 L270.09,96.51 L270.90,97.75 L271.71,99.00 L272.52,100.27 L273.33,101.56 L274.14,102.86 L274.95,104.19 L275.76,105.52 L276.57,106.88 L277.38,108.25 L278.19,109.63 L279.00,111.03 L279.82,112.45 L280.63,113.88 L281.44,115.32 L282.25,116.78 L283.06,118.25 L283.87,119.73 L284.68,121.22 L285.49,122.73 L286.30,124.24 L287.11,125.77 L287.92,127.31 L288.73,128.85 L289.54,130.40 L290.35,131.96 L291.16,133.53 L291.97,135.11 L292.79,136.68 L293.60,138.27 L294.41,139.85 L295.22,141.44 L296.03,143.03 L296.84,144.62 L297.65,146.22 L298.46,147.81 L299.27,149.40 L300.08,150.98 L300.89,152.57 L301.70,154.14 L302.51,155.72 L303.32,157.28 L304.13,158.84 L304.94,160.39 L305.76,161.93 L306.57,163.46 L307.38,164.98 L308.19,166.48 L309.00,167.97 L309.81,169.45 L310.62,170.91 L311.43,172.35 L312.24,173.77 L313.05,175.18 L313.86,176.57 L314.67,177.93 L315.48,179.28 L316.29,180.60 L317.10,181.90 L317.91,183.17 L318.73,184.42 L319.54,185.64 L320.35,186.84 L321.16,188.01 L321.97,189.15 L322.78,190.26 L323.59,191.34 L324.40,192.39 L325.21,193.41 L326.02,194.39 L326.83,195.35 L327.64,196.27 L328.45,197.16 L329.26,198.01 L330.07,198.83 L330.88,199.62 L331.70,200.37 L332.51,201.09 L333.32,201.77 L334.13,202.41 L334.94,203.02 L335.75,203.59 L336.56,204.12 L337.37,204.62 L338.18,205.08 L338.99,205.51 L339.80,205.90 L340.61,206.25 L341.42,206.56 L342.23,206.84 L343.04,207.09 L343.85,207.29 L344.67,207.46 L345.48,207.60 L346.29,207.70 L347.10,207.76 L347.91,207.79 L348.72,207.79 L349.53,207.75 L350.34,207.67 L351.15,207.57 L351.96,207.43 L352.77,207.26 L353.58,207.05 L354.39,206.82 L355.20,206.55 L356.01,206.26 L356.82,205.93 L357.63,205.57 L358.45,205.19 L359.26,204.78 L360.07,204.33 L360.88,203.87 L361.69,203.37 L362.50,202.85 L363.31,202.31 L364.12,201.74 L364.93,201.14 L365.74,200.52 L366.55,199.88 L367.36,199.22 L368.17,198.54 L368.98,197.83 L369.79,197.11 L370.60,196.36 L371.42,195.60 L372.23,194.82 L373.04,194.02 L373.85,193.20 L374.66,192.37 L375.47,191.52 L376.28,190.65 L377.09,189.78 L377.90,188.88 L378.71,187.98 L379.52,187.06 L380.33,186.13 L381.14,185.18 L381.95,184.23 L382.76,183.27 L383.57,182.29 L384.39,181.31 L385.20,180.32 L386.01,179.32 L386.82,178.31 L387.63,177.29 L388.44,176.27 L389.25,175.24 L390.06,174.20 L390.87,173.16 L391.68,172.12 L392.49,171.07 L393.30,170.01 L394.11,168.96 L394.92,167.90 L395.73,166.83 L396.54,165.77 L397.36,164.70 L398.17,163.63 L398.98,162.56 L399.79,161.48 L400.60,160.41 L401.41,159.34 L402.22,158.27 L403.03,157.19 L403.84,156.12 L404.65,155.05 L405.46,153.98 L406.27,152.91 L407.08,151.85 L407.89,150.78 L408.70,149.72 L409.51,148.66 L410.33,147.61 L411.14,146.55 L411.95,145.50 L412.76,144.46 L413.57,143.42 L414.38,142.38 L415.19,141.34 L416.00,140.31 L416.81,139.29 L417.62,138.27 L418.43,137.25 L419.24,136.24 L420.05,135.23 L420.86,134.23 L421.67,133.24 L422.48,132.25 L423.30,131.26 L424.11,130.28 L424.92,129.31 L425.73,128.34 L426.54,127.38 L427.35,126.43 L428.16,125.48 L428.97,124.54 L429.78,123.60 L430.59,122.67 L431.40,121.75 L432.21,120.83 L433.02,119.92 L433.83,119.02 L434.64,118.13 L435.45,117.24 L436.27,116.35 L437.08,115.48 L437.89,114.61 L438.70,113.75 L439.51,112.90 L440.32,112.05 L441.13,111.21 L441.94,110.37 L442.75,109.55 L443.56,108.73 L444.37,107.92 L445.18,107.11 L445.99,106.31 L446.80,105.52 L447.61,104.74 L448.42,103.96 L449.23,103.20 L450.05,102.43 L450.86,101.68 L451.67,100.93 L452.48,100.19 L453.29,99.46 L454.10,98.73 L454.91,98.01 L455.72,97.30 L456.53,96.59 L457.34,95.89 L458.15,95.20 L458.96,94.52 L459.77,93.84 L460.58,93.17 L461.39,92.50 L462.20,91.85 L463.02,91.20 L463.83,90.55 L464.64,89.91 L465.45,89.28 L466.26,88.66 L467.07,88.04 L467.88,87.43 L468.69,86.83 L469.50,86.23 L470.31,85.64 L471.12,85.05 L471.93,84.47 L472.74,83.90 L473.55,83.34 L474.36,82.78 L475.17,82.22 L475.99,81.67 L476.80,81.13 L477.61,80.60 L478.42,80.07 L479.23,79.54 L480.04,79.02 L480.85,78.51 L481.66,78.01 L482.47,77.51 L483.28,77.01 L484.09,76.52 L484.90,76.04 L485.71,75.56 L486.52,75.09 L487.33,74.62 L488.14,74.16 L488.96,73.70 L489.77,73.25 L490.58,72.81 L491.39,72.37 L492.20,71.93 L493.01,71.50 L493.82,71.08 L494.63,70.66 L495.44,70.24 L496.25,69.83 L497.06,69.43 L497.87,69.03 L498.68,68.63 L499.49,68.24 L500.30,67.85 L501.11,67.47 L501.93,67.09 L502.74,66.72 L503.55,66.35 L504.36,65.99 L505.17,65.63 L505.98,65.28 L506.79,64.93 L507.60,64.58 L508.41,64.24 L509.22,63.90 L510.03,63.57 L510.84,63.24 L511.65,62.91 L512.46,62.59 L513.27,62.27 L514.08,61.96 L514.90,61.65 L515.71,61.35 L516.52,61.04 L517.33,60.75 L518.14,60.45 L518.95,60.16 L519.76,59.87 L520.57,59.59 L521.38,59.31 L522.19,59.03 L523.00,58.76 L523.81,58.49 L524.62,58.23 L525.43,57.96 L526.24,57.70 L527.05,57.45 L527.87,57.19 L528.68,56.94 L529.49,56.70 L530.30,56.45 L531.11,56.21 L531.92,55.98 L532.73,55.74 L533.54,55.51 L534.35,55.28 L535.16,55.06 L535.97,54.84 L536.78,54.62 L537.59,54.40 L538.40,54.18 L539.21,53.97 L540.02,53.76 L540.83,53.56 L541.65,53.36 L542.46,53.15 L543.27,52.96 L544.08,52.76 L544.89,52.57 L545.70,52.38 L546.51,52.19 L547.32,52.00 L548.13,51.82 L548.94,51.64 L549.75,51.46 L550.56,51.29 L551.37,51.11 L552.18,50.94 L552.99,50.77 L553.80,50.60 L554.62,50.44 L555.43,50.28 L556.24,50.11 L557.05,49.96 L557.86,49.80 L558.67,49.65 L559.48,49.49 L560.29,49.34 L561.10,49.19 L561.91,49.05 L562.72,48.90 L563.53,48.76 L564.34,48.62 L565.15,48.48 L565.96,48.34 L566.77,48.21 L567.59,48.07 L568.40,47.94 L569.21,47.81 L570.02,47.68 L570.83,47.56 L571.64,47.43 L572.45,47.31 L573.26,47.19 L574.07,47.07 L574.88,46.95 L575.69,46.83 L576.50,46.71 L577.31,46.60 L578.12,46.49 L578.93,46.38 L579.74,46.27 L580.56,46.16 L581.37,46.05 L582.18,45.95 L582.99,45.84 L583.80,45.74 L584.61,45.64 L585.42,45.54 L586.23,45.44 L587.04,45.35 L587.85,45.25 L588.66,45.15 L589.47,45.06 L590.28,44.97 L591.09,44.88 L591.90,44.79 L592.71,44.70 L593.53,44.61 L594.34,44.53 L595.15,44.44 L595.96,44.36 L596.77,44.28 L597.58,44.19 L598.39,44.11 L599.20,44.03 L600.01,43.96 L600.82,43.88 L601.63,43.80 L602.44,43.73 L603.25,43.65 L604.06,43.58 L604.87,43.51 L605.68,43.44 L606.50,43.37 L607.31,43.30 L608.12,43.23 L608.93,43.16 L609.74,43.09 L610.55,43.03 L611.36,42.96 L612.17,42.90 L612.98,42.84 L613.79,42.77 L614.60,42.71 L615.41,42.65 L616.22,42.59 L617.03,42.53 L617.84,42.47 L618.65,42.42 L619.46,42.36 L620.28,42.30 L621.09,42.25 L621.90,42.20 L622.71,42.14 L623.52,42.09 L624.33,42.04 L625.14,41.98 L625.95,41.93 L626.76,41.88 L627.57,41.83 L628.38,41.79 L629.19,41.74 L630.00,41.69 L630.81,41.64 L631.62,41.60 L632.43,41.55 L633.25,41.51 L634.06,41.46 L634.87,41.42 L635.68,41.37 L636.49,41.33 L637.30,41.29 L638.11,41.25 L638.92,41.21 L639.73,41.17 L640.54,41.13 L641.35,41.09 L642.16,41.05 L642.97,41.01 L643.78,40.97 L644.59,40.94 L645.40,40.90 L646.22,40.86 L647.03,40.83 L647.84,40.79 L648.65,40.76 L649.46,40.72 L650.27,40.69 L651.08,40.66 L651.89,40.62 L652.70,40.59 L653.51,40.56 L654.32,40.53 L655.13,40.50 L655.94,40.46 L656.75,40.43 L657.56,40.40 L658.37,40.37 L659.19,40.35 L660.00,40.32 L660.81,40.29 L661.62,40.26 L662.43,40.23 L663.24,40.21 L664.05,40.18 L664.86,40.15 L665.67,40.13 L666.48,40.10 L667.29,40.08 L668.10,40.05 L668.91,40.03 L669.72,40.00 L670.53,39.98 L671.34,39.95 L672.16,39.93 L672.97,39.91 L673.78,39.88 L674.59,39.86 L675.40,39.84 L676.21,39.82 L677.02,39.80 L677.83,39.77 L678.64,39.75 L679.45,39.73 L680.26,39.71 L681.07,39.69 L681.88,39.67 L682.69,39.65 L683.50,39.63 L684.31,39.61 L685.13,39.60 L685.94,39.58 L686.75,39.56 L687.56,39.54 L688.37,39.52 L689.18,39.51 L689.99,39.49 L690.80,39.47 L691.61,39.45 L692.42,39.44 L693.23,39.42 L694.04,39.40 L694.85,39.39 L695.66,39.37 L696.47,39.36 L697.28,39.34 L698.10,39.33 L698.91,39.31 L699.72,39.30 L700.53,39.28 L701.34,39.27 L702.15,39.25 L702.96,39.24 L703.77,39.23 L704.58,39.21 L705.39,39.20 L706.20,39.19 L707.01,39.17 L707.82,39.16 L708.63,39.15 L709.44,39.14 L710.25,39.12 L711.06,39.11 L711.88,39.10 L712.69,39.09 L713.50,39.08 L714.31,39.06 L715.12,39.05 L715.93,39.04 L716.74,39.03 L717.55,39.02 L718.36,39.01 L719.17,39.00 L719.98,38.99 L720.79,38.98 L721.60,38.97 L722.41,38.96 L723.22,38.95 L724.03,38.94 L724.85,38.93 L725.66,38.92 L726.47,38.91 L727.28,38.90 L728.09,38.89 L728.90,38.88 L729.71,38.87 L730.52,38.86 L731.33,38.86 L732.14,38.85 L732.95,38.84 L733.76,38.83 L734.57,38.82 L735.38,38.81 L736.19,38.81 L737.00,38.80 L737.82,38.79 L738.63,38.78 L739.44,38.78 L740.25,38.77 L741.06,38.76 L741.87,38.75 L742.68,38.75 L743.49,38.74 L744.30,38.73 L745.11,38.73 L745.92,38.72 L746.73,38.71 L747.54,38.71 L748.35,38.70 L749.16,38.69 L749.97,38.69 L750.79,38.68 L751.60,38.67 L752.41,38.67 L753.22,38.66 L754.03,38.66 L754.84,38.65 L755.65,38.64 L756.46,38.64 L757.27,38.63 L758.08,38.63 L758.89,38.62 L759.70,38.62 L760.51,38.61 L761.32,38.61 L762.13,38.60 L762.94,38.60 L763.76,38.59 L764.57,38.59 L765.38,38.58 L766.19,38.58 L767.00,38.57 L767.81,38.57 L768.62,38.56 L769.43,38.56 L770.24,38.55 L771.05,38.55 L771.86,38.55 L772.67,38.54 L773.48,38.54 L774.29,38.53 L775.10,38.53 L775.91,38.52 L776.73,38.52 L777.54,38.52 L778.35,38.51 L779.16,38.51 L779.97,38.50 L780.78,38.50 L781.59,38.50 L782.40,38.49 L783.21,38.49 L784.02,38.49 L784.83,38.48 L785.64,38.48 L786.45,38.48 L787.26,38.47 L788.07,38.47 L788.88,38.47 L789.70,38.46 L790.51,38.46 L791.32,38.46 L792.13,38.45 L792.94,38.45 L793.75,38.45 L794.56,38.44 L795.37,38.44 L796.18,38.44 L796.99,38.44 L797.80,38.43 L798.61,38.43 L799.42,38.43 L800.23,38.42 L801.04,38.42 L801.85,38.42 L802.66,38.42 L803.48,38.41 L804.29,38.41 L805.10,38.41 L805.91,38.41 L806.72,38.40 L807.53,38.40 L808.34,38.40 L809.15,38.40 L809.96,38.40 L810.77,38.39 L811.58,38.39" stroke="#6681d8" stroke-width="5.1"/>
</g>
<rect x="87.76" y="4.45" width="720.94" height="540.54" fill="none" stroke="#4f4f4f" stroke-width="1.3"/>
<path d="M87.76,544.99v-3.6M87.76,4.45v3.6M98.53,544.99v-3.6M98.53,4.45v3.6M107.63,544.99v-3.6M107.63,4.45v3.6M115.52,544.99v-3.6M115.52,4.45v3.6M122.48,544.99v-3.6M122.48,4.45v3.6M128.70,544.99v-7.2M128.70,4.45v7.2M169.64,544.99v-3.6M169.64,4.45v3.6M193.59,544.99v-3.6M193.59,4.45v3.6M210.58,544.99v-3.6M210.58,4.45v3.6M223.76,544.99v-3.6M223.76,4.45v3.6M234.53,544.99v-3.6M234.53,4.45v3.6M243.63,544.99v-3.6M243.63,4.45v3.6M251.52,544.99v-3.6M251.52,4.45v3.6M258.48,544.99v-3.6M258.48,4.45v3.6M264.70,544.99v-7.2M264.70,4.45v7.2M305.64,544.99v-3.6M305.64,4.45v3.6M329.59,544.99v-3.6M329.59,4.45v3.6M346.58,544.99v-3.6M346.58,4.45v3.6M359.76,544.99v-3.6M359.76,4.45v3.6M370.53,544.99v-3.6M370.53,4.45v3.6M379.63,544.99v-3.6M379.63,4.45v3.6M387.52,544.99v-3.6M387.52,4.45v3.6M394.48,544.99v-3.6M394.48,4.45v3.6M400.70,544.99v-7.2M400.70,4.45v7.2M441.64,544.99v-3.6M441.64,4.45v3.6M465.59,544.99v-3.6M465.59,4.45v3.6M482.58,544.99v-3.6M482.58,4.45v3.6M495.76,544.99v-3.6M495.76,4.45v3.6M506.53,544.99v-3.6M506.53,4.45v3.6M515.63,544.99v-3.6M515.63,4.45v3.6M523.52,544.99v-3.6M523.52,4.45v3.6M530.48,544.99v-3.6M530.48,4.45v3.6M536.70,544.99v-7.2M536.70,4.45v7.2M577.64,544.99v-3.6M577.64,4.45v3.6M601.59,544.99v-3.6M601.59,4.45v3.6M618.58,544.99v-3.6M618.58,4.45v3.6M631.76,544.99v-3.6M631.76,4.45v3.6M642.53,544.99v-3.6M642.53,4.45v3.6M651.63,544.99v-3.6M651.63,4.45v3.6M659.52,544.99v-3.6M659.52,4.45v3.6M666.48,544.99v-3.6M666.48,4.45v3.6M672.70,544.99v-7.2M672.70,4.45v7.2M713.64,544.99v-3.6M713.64,4.45v3.6M737.59,544.99v-3.6M737.59,4.45v3.6M754.58,544.99v-3.6M754.58,4.45v3.6M767.76,544.99v-3.6M767.76,4.45v3.6M778.53,544.99v-3.6M778.53,4.45v3.6M787.63,544.99v-3.6M787.63,4.45v3.6M795.52,544.99v-3.6M795.52,4.45v3.6M802.48,544.99v-3.6M802.48,4.45v3.6M808.70,544.99v-7.2M808.70,4.45v7.2" stroke="#7a7a7a" stroke-width="0.65" fill="none"/>
<path d="M87.76,544.99h7.6M808.70,544.99h-7.6M87.76,528.10h4.8M808.70,528.10h-4.8M87.76,511.21h4.8M808.70,511.21h-4.8M87.76,494.31h4.8M808.70,494.31h-4.8M87.76,477.42h4.8M808.70,477.42h-4.8M87.76,460.53h7.6M808.70,460.53h-7.6M87.76,443.64h4.8M808.70,443.64h-4.8M87.76,426.75h4.8M808.70,426.75h-4.8M87.76,409.85h4.8M808.70,409.85h-4.8M87.76,392.96h4.8M808.70,392.96h-4.8M87.76,376.07h7.6M808.70,376.07h-7.6M87.76,359.18h4.8M808.70,359.18h-4.8M87.76,342.29h4.8M808.70,342.29h-4.8M87.76,325.39h4.8M808.70,325.39h-4.8M87.76,308.50h4.8M808.70,308.50h-4.8M87.76,291.61h7.6M808.70,291.61h-7.6M87.76,274.72h4.8M808.70,274.72h-4.8M87.76,257.83h4.8M808.70,257.83h-4.8M87.76,240.93h4.8M808.70,240.93h-4.8M87.76,224.04h4.8M808.70,224.04h-4.8M87.76,207.15h7.6M808.70,207.15h-7.6M87.76,190.26h4.8M808.70,190.26h-4.8M87.76,173.37h4.8M808.70,173.37h-4.8M87.76,156.47h4.8M808.70,156.47h-4.8M87.76,139.58h4.8M808.70,139.58h-4.8M87.76,122.69h7.6M808.70,122.69h-7.6M87.76,105.80h4.8M808.70,105.80h-4.8M87.76,88.91h4.8M808.70,88.91h-4.8M87.76,72.01h4.8M808.70,72.01h-4.8M87.76,55.12h4.8M808.70,55.12h-4.8M87.76,38.23h7.6M808.70,38.23h-7.6M87.76,21.34h4.8M808.70,21.34h-4.8M87.76,4.45h4.8M808.70,4.45h-4.8" stroke="#3c3c3c" stroke-width="1.2" fill="none"/>
<path d="M401,536.99V545.69M401,4.35v8" stroke="#000" stroke-width="3.8" fill="none"/>
<g font-family="Liberation Serif, serif" font-size="19px" fill="#000">
<text x="58.20" y="46.13" textLength="24.9" lengthAdjust="spacingAndGlyphs">1.0</text>
<text x="58.20" y="130.59" textLength="24.9" lengthAdjust="spacingAndGlyphs">0.5</text>
<text x="58.20" y="215.05" textLength="24.9" lengthAdjust="spacingAndGlyphs">0.0</text>
<text x="58.20" y="299.51" textLength="24.9" lengthAdjust="spacingAndGlyphs">0.5</text>
<path d="M46.9,294.31H57.0" stroke="#000" stroke-width="1.25" fill="none"/>
<text x="58.20" y="383.97" textLength="24.9" lengthAdjust="spacingAndGlyphs">1.0</text>
<path d="M46.9,378.77H57.0" stroke="#000" stroke-width="1.25" fill="none"/>
<text x="58.20" y="468.43" textLength="24.9" lengthAdjust="spacingAndGlyphs">1.5</text>
<path d="M46.9,463.23H57.0" stroke="#000" stroke-width="1.25" fill="none"/>
<text x="58.20" y="552.89" textLength="24.9" lengthAdjust="spacingAndGlyphs">2.0</text>
<path d="M46.9,547.69H57.0" stroke="#000" stroke-width="1.25" fill="none"/>
<text x="110.20" y="568.6" textLength="35.6" lengthAdjust="spacingAndGlyphs">0.01</text>
<text x="246.40" y="568.6" textLength="35.6" lengthAdjust="spacingAndGlyphs">0.10</text>
<text x="394.55" y="568.6" textLength="11.5" lengthAdjust="spacingAndGlyphs">1</text>
<text x="526.20" y="568.6" textLength="20.8" lengthAdjust="spacingAndGlyphs">10</text>
<text x="657.00" y="568.6" textLength="31.6" lengthAdjust="spacingAndGlyphs">100</text>
<text x="787.60" y="568.6" textLength="42.6" lengthAdjust="spacingAndGlyphs">1000</text>
</g>
<line x1="551" x2="620.3" y1="256.3" y2="256.3" stroke="#800080" stroke-width="3.5" stroke-dasharray="4 6.0"/>
<line x1="551" x2="620.3" y1="321.9" y2="321.9" stroke="#07aa1a" stroke-width="3.5" stroke-dasharray="4.9 10.8 13 10.8"/>
<line x1="551" x2="620.3" y1="387.4" y2="387.4" stroke="#ff7b42" stroke-width="3.5" stroke-dasharray="17.7 6.1"/>
<line x1="551" x2="620.3" y1="452.9" y2="452.9" stroke="#6681d8" stroke-width="3.5"/>
<g font-family="Liberation Serif, serif" fill="#000">
<text transform="translate(646.55,265.05) scale(0.2472,0.2631)" font-size="100px" font-style="italic" stroke="#fff" stroke-width="0.8">M</text>
<line x1="671.75" y1="270.90" x2="680.75" y2="246.00" stroke="#000" stroke-width="1.1"/>
<text transform="translate(681.95,265.30) scale(0.2822,0.2600)" font-size="100px" stroke="#fff" stroke-width="1.4">λ</text>
<path d="M704.00,256.55H719.90M704.00,260.80H719.90" stroke="#000" stroke-width="1.05" fill="none"/>
<text transform="translate(726.97,264.87) scale(0.2326,0.2642)" font-size="100px" stroke="#fff" stroke-width="0.8">6</text>
<text transform="translate(738.97,264.89) scale(0.2182,0.2083)" font-size="100px">.</text>
<text transform="translate(743.80,265.10) scale(0.2500,0.2646)" font-size="100px" stroke="#fff" stroke-width="0.8">2</text>
<text transform="translate(755.28,265.13) scale(0.2525,0.2682)" font-size="100px" stroke="#fff" stroke-width="0.8">5</text>
<text transform="translate(646.55,330.65) scale(0.2472,0.2631)" font-size="100px" font-style="italic" stroke="#fff" stroke-width="0.8">M</text>
<line x1="671.75" y1="336.50" x2="680.75" y2="311.60" stroke="#000" stroke-width="1.1"/>
<text transform="translate(681.95,330.90) scale(0.2822,0.2600)" font-size="100px" stroke="#fff" stroke-width="1.4">λ</text>
<path d="M704.00,322.15H719.90M704.00,326.40H719.90" stroke="#000" stroke-width="1.05" fill="none"/>
<text transform="translate(726.91,330.73) scale(0.2475,0.2682)" font-size="100px" stroke="#fff" stroke-width="0.8">5</text>
<text transform="translate(646.55,396.15) scale(0.2472,0.2631)" font-size="100px" font-style="italic" stroke="#fff" stroke-width="0.8">M</text>
<line x1="671.75" y1="402.00" x2="680.75" y2="377.10" stroke="#000" stroke-width="1.1"/>
<text transform="translate(681.95,396.40) scale(0.2822,0.2600)" font-size="100px" stroke="#fff" stroke-width="1.4">λ</text>
<path d="M704.00,387.65H719.90M704.00,391.90H719.90" stroke="#000" stroke-width="1.05" fill="none"/>
<text transform="translate(727.29,396.20) scale(0.2229,0.2606)" font-size="100px" stroke="#fff" stroke-width="0.8">1</text>
<text transform="translate(738.42,395.97) scale(0.2452,0.2642)" font-size="100px" stroke="#fff" stroke-width="0.8">0</text>
<line x1="752.75" y1="402.00" x2="761.75" y2="377.10" stroke="#000" stroke-width="1.1"/>
<text transform="translate(762.64,396.23) scale(0.2512,0.2682)" font-size="100px" stroke="#fff" stroke-width="0.8">3</text>
<text transform="translate(646.55,461.65) scale(0.2472,0.2631)" font-size="100px" font-style="italic" stroke="#fff" stroke-width="0.8">M</text>
<line x1="671.75" y1="467.50" x2="680.75" y2="442.60" stroke="#000" stroke-width="1.1"/>
<text transform="translate(681.95,461.90) scale(0.2822,0.2600)" font-size="100px" stroke="#fff" stroke-width="1.4">λ</text>
<path d="M704.00,453.15H719.90M704.00,457.40H719.90" stroke="#000" stroke-width="1.05" fill="none"/>
<text transform="translate(727.40,461.70) scale(0.2500,0.2646)" font-size="100px" stroke="#fff" stroke-width="0.8">2</text>
<text transform="translate(739.30,461.49) scale(0.2000,0.2083)" font-size="100px">.</text>
<text transform="translate(743.80,461.70) scale(0.2500,0.2646)" font-size="100px" stroke="#fff" stroke-width="0.8">2</text>
<text transform="translate(755.79,461.70) scale(0.2525,0.2646)" font-size="100px" stroke="#fff" stroke-width="0.8">2</text>
</g>
<rect x="579.3" y="115.9" width="170.4" height="47.0" fill="#f2f2f2" stroke="#4a4a4a" stroke-width="1.4"/>
<g font-family="Liberation Serif, serif" fill="#000">
<text transform="translate(588.47,144.85) scale(0.2708,0.2646)" font-size="100px" font-style="italic" stroke="#f2f2f2" stroke-width="0.8">M</text>
<line x1="613.75" y1="150.80" x2="622.35" y2="125.70" stroke="#000" stroke-width="1.1"/>
<text transform="translate(624.45,145.20) scale(0.2822,0.2586)" font-size="100px" stroke="#f2f2f2" stroke-width="1.4">λ</text>
<path d="M645.95,136.45H661.95M645.95,140.70H661.95" stroke="#000" stroke-width="1.05" fill="none"/>
<text transform="translate(670.34,144.86) scale(0.2647,0.2404)" font-size="100px" font-style="italic" stroke="#f2f2f2" stroke-width="0.8">π</text>
<text transform="translate(684.50,144.86) scale(0.2756,0.2353)" font-size="100px" font-style="italic" stroke="#f2f2f2" stroke-width="0.8">η</text>
<text transform="translate(696.97,144.86) scale(0.2444,0.2353)" font-size="100px" font-style="italic" stroke="#f2f2f2" stroke-width="0.8">q</text>
<text transform="translate(709.27,134.60) scale(0.1674,0.1769)" font-size="100px">4</text>
<line x1="719.85" y1="150.80" x2="728.55" y2="125.70" stroke="#000" stroke-width="1.1"/>
<text transform="translate(730.00,144.90) scale(0.2500,0.2631)" font-size="100px" stroke="#f2f2f2" stroke-width="0.8">4</text>
</g>
<g font-family="Liberation Serif, serif" fill="#000">
<text transform="translate(395.38,607.00) scale(0.3622,0.2851)" font-size="100px" font-style="italic" font-weight="bold">r</text>
<line x1="413.90" y1="613.60" x2="424.00" y2="586.10" stroke="#000" stroke-width="2.0"/>
<text transform="translate(428.56,607.15) scale(0.2846,0.3022)" font-size="100px" stroke="#000" stroke-width="2.2">(</text>
<text transform="translate(438.63,606.31) scale(0.3167,0.2879)" font-size="100px" font-weight="bold">2</text>
<text transform="translate(455.85,606.60) scale(0.3495,0.2877)" font-size="100px" font-style="italic" font-weight="bold">M</text>
<text transform="translate(490.18,607.15) scale(0.2731,0.3022)" font-size="100px" stroke="#000" stroke-width="2.2">)</text>
</g>
<g fill="none" stroke="#000" stroke-linecap="round" stroke-linejoin="round">
<path d="M8.3,288.7C7.2,286.6 4.7,287.6 5.2,290.1C5.6,292.0 7.6,292.3 9.6,292.7L24.2,295.7C27.6,296.5 29.8,297.9 29.7,300.1C29.6,302.3 27.3,302.4 26.8,300.7" stroke-width="1.6"/>
<path d="M6.3,291.3C7.2,292.2 8.6,292.4 10,292.7L24,295.6C26.2,296.1 27.6,296.8 28.5,297.7" stroke-width="2.5"/>
<path d="M9.2,292.3L23.6,295.4" stroke-width="3.4"/>
<path d="M12.9,287.9V298.3" stroke-width="1.8" stroke-linecap="butt"/>
</g>
<circle cx="8.1" cy="288.3" r="1.45" fill="#000"/><circle cx="27.2" cy="300.1" r="1.35" fill="#000"/>
<g font-family="Liberation Serif, serif" fill="#000" transform="translate(24.3,302.4) rotate(-90)">
<text transform="translate(19.18,0.85) scale(0.2808,0.3022)" font-size="100px" stroke="#000" stroke-width="2.2">(</text>
<text transform="translate(29.06,0.10) scale(0.3676,0.2766)" font-size="100px" font-style="italic" font-weight="bold">r</text>
<text transform="translate(46.08,0.85) scale(0.2731,0.3022)" font-size="100px" stroke="#000" stroke-width="2.2">)</text>
</g>
</svg>
</body></html>
